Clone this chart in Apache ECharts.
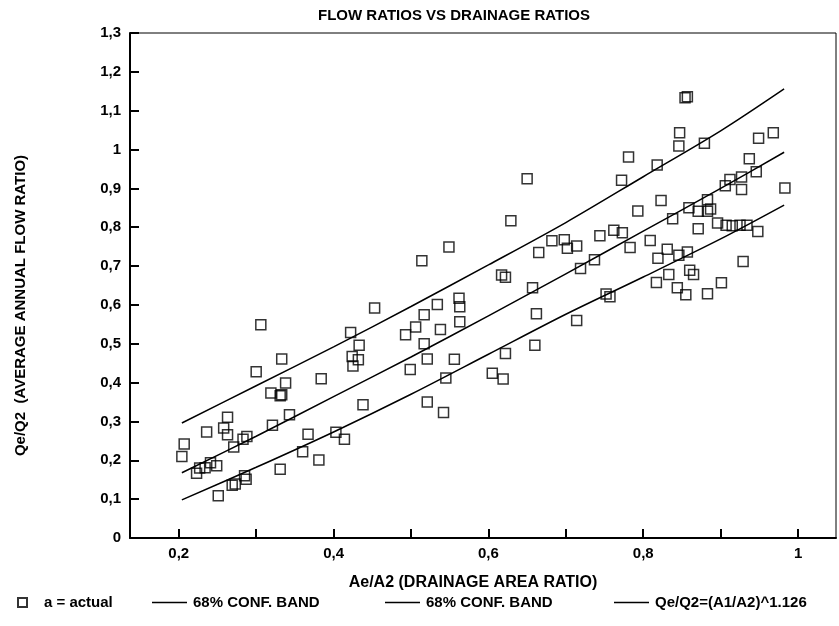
<!DOCTYPE html>
<html>
<head>
  <meta charset="utf-8">
  <title>Flow ratios vs drainage ratios</title>
  <script src="https://cdn.jsdelivr.net/npm/echarts@6/dist/echarts.min.js"></script>
  <style>
    html, body { margin: 0; padding: 0; background: #fff; }
    #chart { width: 839px; height: 626px; }
  </style>
</head>
<body>
  <div id="chart"></div>
  <script>
    // observed points: drainage area ratio / average annual flow ratio
    var actualA = [
      0.204, 0.207, 0.223, 0.227, 0.234, 0.236, 0.241, 0.249, 0.251, 0.258,
      0.263, 0.263, 0.271, 0.269, 0.273, 0.283, 0.288, 0.285, 0.287, 0.306,
      0.300, 0.321, 0.319, 0.331, 0.333, 0.333, 0.338, 0.343, 0.331, 0.360,
      0.367, 0.381, 0.384, 0.403, 0.414, 0.422, 0.433, 0.424, 0.432, 0.425,
      0.438, 0.453,
      0.514, 0.549, 0.629, 0.517, 0.506, 0.493, 0.534, 0.562, 0.563, 0.563,
      0.538, 0.517, 0.521, 0.556, 0.499, 0.545, 0.521, 0.542, 0.605, 0.619,
      0.622, 0.660, 0.662, 0.714, 0.657, 0.617, 0.622, 0.665, 0.682, 0.698,
      0.702, 0.714, 0.719, 0.737, 0.744, 0.762, 0.752, 0.757, 0.650,
      0.857, 0.854, 0.847, 0.846, 0.879, 0.781, 0.818, 0.772, 0.949, 0.968,
      0.937, 0.946, 0.927, 0.912, 0.906, 0.927, 0.983, 0.823, 0.793, 0.838,
      0.883, 0.859, 0.871, 0.883, 0.887, 0.871, 0.896, 0.907, 0.915, 0.925,
      0.934, 0.948, 0.773, 0.783, 0.809, 0.819, 0.831, 0.846, 0.857, 0.929,
      0.833, 0.817, 0.844, 0.855, 0.860, 0.865, 0.883, 0.901
    ];
    var actualQ = [
      0.210, 0.242, 0.167, 0.180, 0.181, 0.273, 0.194, 0.186, 0.109, 0.283,
      0.311, 0.266, 0.234, 0.136, 0.139, 0.254, 0.261, 0.160, 0.151, 0.549,
      0.428, 0.290, 0.373, 0.366, 0.369, 0.461, 0.399, 0.317, 0.177, 0.222,
      0.267, 0.201, 0.410, 0.272, 0.254, 0.529, 0.496, 0.467, 0.459, 0.443,
      0.343, 0.592,
      0.714, 0.749, 0.817, 0.575, 0.543, 0.523, 0.601, 0.617, 0.595, 0.557,
      0.537, 0.500, 0.461, 0.460, 0.434, 0.412, 0.350, 0.323, 0.424, 0.409,
      0.475, 0.496, 0.577, 0.560, 0.644, 0.677, 0.671, 0.735, 0.765, 0.768,
      0.746, 0.752, 0.694, 0.716, 0.778, 0.792, 0.628, 0.621, 0.925,
      1.136, 1.133, 1.043, 1.009, 1.016, 0.981, 0.960, 0.921, 1.029, 1.043,
      0.976, 0.943, 0.929, 0.923, 0.907, 0.897, 0.901, 0.869, 0.842, 0.822,
      0.871, 0.850, 0.841, 0.841, 0.847, 0.796, 0.811, 0.805, 0.804, 0.805,
      0.805, 0.789, 0.786, 0.748, 0.766, 0.720, 0.743, 0.728, 0.736, 0.712,
      0.678, 0.658, 0.644, 0.626, 0.689, 0.678, 0.629, 0.657
    ];

    // curves
    var bandA = [0.204, 0.3, 0.4, 0.5, 0.6, 0.7, 0.8, 0.9, 0.982];
    var upperQ = [0.296, 0.392, 0.492, 0.596, 0.703, 0.812, 0.930, 1.048, 1.156];
    var lowerQ = [0.098, 0.182, 0.273, 0.370, 0.473, 0.576, 0.672, 0.770, 0.857];
    var fitQ = [0.168, 0.262, 0.364, 0.466, 0.572, 0.680, 0.790, 0.900, 0.993];

    var xTicks = [0.2, 0.3, 0.4, 0.5, 0.6, 0.7, 0.8, 0.9, 1];
    var xLabels = [0.2, 0.4, 0.6, 0.8, 1];

    var legendNames = {
      actual: 'a = actual',
      upper: '68% CONF. BAND',
      lower: '68% CONF. BAND',
      fit: 'Qe/Q2=(A1/A2)^1.126'
    };

    function pairs(xs, ys) {
      return xs.map(function (x, i) { return [x, ys[i]]; });
    }
    function comma(v) {
      return String(+v.toFixed(1)).replace('.', ',');
    }

    var font = '"Liberation Sans", Arial, sans-serif';
    var txt = { color: '#000', fontFamily: font, fontWeight: 700, fontSize: 15 };
    var tickTxt = { color: '#000', fontFamily: font, fontWeight: 700, fontSize: 15 };

    function legendAt(name, left, lineItem) {
      var l = {
        data: [name],
        left: left,
        top: 595,
        padding: 0,
        itemWidth: lineItem ? 35 : 9,
        itemHeight: lineItem ? 1.5 : 9,
        selectedMode: false,
        formatter: function (n) { return legendNames[n]; },
        textStyle: Object.assign({ padding: lineItem ? [0, 0, 0, 1] : [0, 0, 0, 12] }, txt)
      };
      if (lineItem) {
        l.icon = 'rect';
        l.itemStyle = { color: '#000' };
      }
      return l;
    }

    var chart = echarts.init(document.getElementById('chart'));
    chart.setOption({
      animation: false,
      backgroundColor: '#fff',
      title: {
        text: 'FLOW RATIOS VS DRAINAGE RATIOS',
        left: 449, top: 3,
        textAlign: 'center',
        textStyle: { color: '#000', fontFamily: font, fontWeight: 700, fontSize: 15 }
      },
      grid: {
        left: 130, right: 3, top: 33, bottom: 88,
        show: true, borderColor: '#000', borderWidth: 1
      },
      legend: [
        legendAt('actual', 17, false),
        legendAt('upper', 152, true),
        legendAt('lower', 385, true),
        legendAt('fit', 614, true)
      ],
      xAxis: {
        type: 'value',
        min: 0.137, max: 1.049,
        name: 'Ae/A2 (DRAINAGE AREA RATIO)',
        nameLocation: 'middle',
        nameGap: 37,
        nameTextStyle: Object.assign({ padding: [0, 20, 0, 0] }, txt, { fontSize: 16 }),
        axisLine: { lineStyle: { color: '#000', width: 2 } },
        axisTick: { inside: true, length: 9, customValues: xTicks, lineStyle: { color: '#000', width: 2 } },
        axisLabel: Object.assign({ customValues: xLabels, margin: 8, formatter: comma }, tickTxt),
        splitLine: { show: false }
      },
      yAxis: {
        type: 'value',
        min: 0, max: 1.3, interval: 0.1,
        name: 'Qe/Q2  (AVERAGE ANNUAL FLOW RATIO)',
        nameLocation: 'middle',
        nameGap: 102,
        nameRotate: 90,
        nameTextStyle: Object.assign({ padding: [0, 40, 0, 0] }, txt),
        axisLine: { show: true, lineStyle: { color: '#000', width: 2 } },
        axisTick: { inside: true, length: 9, lineStyle: { color: '#000', width: 2 } },
        axisLabel: Object.assign({ margin: 9, formatter: comma }, tickTxt),
        splitLine: { show: false }
      },
      series: [
        {
          name: 'actual', type: 'scatter',
          data: pairs(actualA, actualQ),
          symbol: 'rect', symbolSize: 10,
          itemStyle: { color: 'rgba(0,0,0,0)', borderColor: '#000', borderWidth: 1.5 },
          z: 3
        },
        {
          name: 'upper', type: 'line', data: pairs(bandA, upperQ),
          smooth: 0.3, showSymbol: false, symbol: 'none',
          lineStyle: { color: '#000', width: 1.5 }, itemStyle: { color: '#000' }
        },
        {
          name: 'lower', type: 'line', data: pairs(bandA, lowerQ),
          smooth: 0.3, showSymbol: false, symbol: 'none',
          lineStyle: { color: '#000', width: 1.5 }, itemStyle: { color: '#000' }
        },
        {
          name: 'fit', type: 'line', data: pairs(bandA, fitQ),
          smooth: 0.3, showSymbol: false, symbol: 'none',
          lineStyle: { color: '#000', width: 1.5 }, itemStyle: { color: '#000' }
        }
      ]
    });
  </script>
</body>
</html>
